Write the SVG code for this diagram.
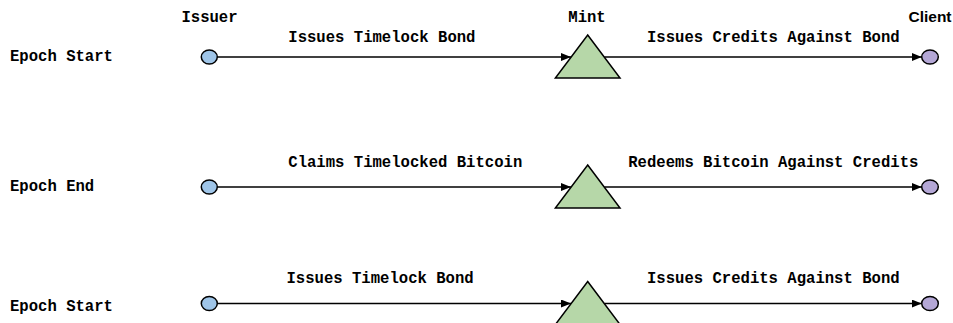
<svg xmlns="http://www.w3.org/2000/svg" width="953" height="323" viewBox="0 0 953 323">
  <style>
    .mono { font-family: "Liberation Mono", "Courier New", monospace; font-weight: bold; font-size: 15.6px; fill: #000; }
    .sans { font-family: "Liberation Sans", Arial, sans-serif; font-weight: bold; font-size: 15.5px; fill: #000; }
    .issuer { fill: #9fc5e8; stroke: #000; stroke-width: 1.5; }
    .client { fill: #b4a7d6; stroke: #000; stroke-width: 1.5; }
    .mint { fill: #b6d7a8; stroke: #000; stroke-width: 1.5; stroke-linejoin: miter; }
    .flow { fill: none; stroke: #000; stroke-width: 1.5; marker-end: url(#head); }
  </style>
  <defs>
    <marker id="head" viewBox="0 0 10 8" refX="10" refY="4" markerWidth="10" markerHeight="8" markerUnits="userSpaceOnUse" orient="auto">
      <path d="M0,0 L10,4 L0,8 Z" fill="#000"/>
    </marker>
  </defs>
  <rect width="953" height="323" fill="#fff"/>

  <!-- column headers -->
  <g id="headers">
    <text class="mono" x="209.5" y="21.7" text-anchor="middle">Issuer</text>
    <text class="mono" x="587" y="21.7" text-anchor="middle">Mint</text>
    <text class="sans" x="930" y="21.7" text-anchor="middle">Client</text>
  </g>

  <!-- row titles -->
  <g id="row-titles">
    <text class="mono" x="10" y="60.7">Epoch Start</text>
    <text class="mono" x="10" y="190.7">Epoch End</text>
    <text class="mono" x="10" y="310.7">Epoch Start</text>
  </g>

  <!-- connectors -->
  <g id="connectors">
    <line class="flow" x1="217.5" y1="57" x2="571" y2="57"/>
    <line class="flow" x1="604.5" y1="57" x2="921.7" y2="57"/>
    <line class="flow" x1="217.5" y1="187" x2="571" y2="187"/>
    <line class="flow" x1="604.5" y1="187" x2="921.7" y2="187"/>
    <line class="flow" x1="217.5" y1="303.5" x2="571" y2="303.5"/>
    <line class="flow" x1="604.5" y1="303.5" x2="921.7" y2="303.5"/>
  </g>

  <!-- connector labels -->
  <g id="connector-labels">
    <text class="mono" x="288.3" y="42.3">Issues Timelock Bond</text>
    <text class="mono" x="773.3" y="42.3" text-anchor="middle">Issues Credits Against Bond</text>
    <text class="mono" x="288.3" y="167.3">Claims Timelocked Bitcoin</text>
    <text class="mono" x="773.3" y="167.3" text-anchor="middle">Redeems Bitcoin Against Credits</text>
    <text class="mono" x="286.5" y="283.3">Issues Timelock Bond</text>
    <text class="mono" x="773.3" y="283.3" text-anchor="middle">Issues Credits Against Bond</text>
  </g>

  <!-- epoch 1 start -->
  <g id="issuer-1"><ellipse class="issuer" cx="209.3" cy="57" rx="8" ry="7"/></g>
  <g id="mint-1"><polygon class="mint" points="587.7,35 620,78 555.4,78"/></g>
  <g id="client-1"><ellipse class="client" cx="930" cy="57" rx="8.3" ry="7"/></g>

  <!-- epoch 1 end -->
  <g id="issuer-2"><ellipse class="issuer" cx="209.3" cy="187" rx="8" ry="7"/></g>
  <g id="mint-2"><polygon class="mint" points="587.7,165 620,208 555.4,208"/></g>
  <g id="client-2"><ellipse class="client" cx="930" cy="187" rx="8.3" ry="7"/></g>

  <!-- epoch 2 start -->
  <g id="issuer-3"><ellipse class="issuer" cx="209.3" cy="303.5" rx="8" ry="7"/></g>
  <g id="mint-3"><polygon class="mint" points="587.7,281.5 620,324.5 555.4,324.5"/></g>
  <g id="client-3"><ellipse class="client" cx="930" cy="303.5" rx="8.3" ry="7"/></g>
</svg>
